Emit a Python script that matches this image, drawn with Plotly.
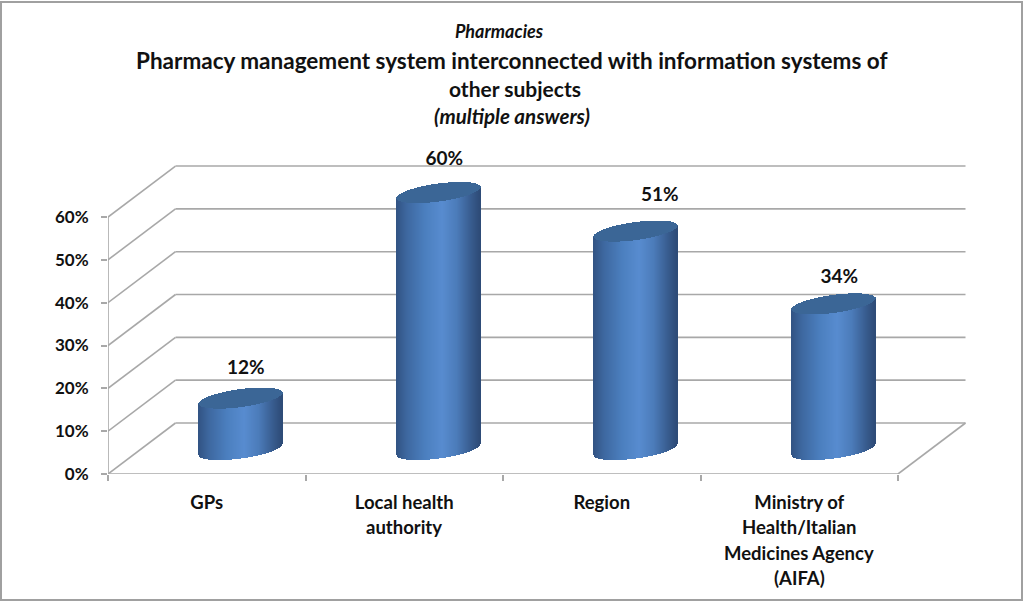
import numpy as np
import plotly.graph_objects as go

# ---- data ----
categories = ["GPs", "Local health<br>authority", "Region",
              "Ministry of<br>Health/Italian<br>Medicines Agency<br>(AIFA)"]
values = [12, 60, 51, 34]
y_ticks = [0, 10, 20, 30, 40, 50, 60]
title_lines = ["<i>Pharmacies</i>",
               "Pharmacy management system interconnected with information systems of",
               "other subjects",
               "<i>(multiple answers)</i>"]

# ---- geometry / style ----
W, H = 1024, 602
PX_X, PX_Y = 197.5, 4.283          # pixels per x unit, per y unit
L, B = 108, 128
R, T = 24, 153
XMAX, YMAX = (W - L - R) / PX_X, (H - B - T) / PX_Y
GREY = "#a8a8a8"
FONT = "Lato"
TXT = "#111111"
wall_dx, wall_dy = 67.5 / PX_X, 51 / PX_Y
bar_dx, bar_dy = 34 / PX_X, 24.5 / PX_Y
rad_px, minor_px, tilt_px = 41.5, 9.0, 5.5
label_shift_px = [(5, 53), (6, 57), (24, 59), (6, 50)]
stops_t = [-1.0, -0.75, -0.3, 0.1, 0.45, 0.8, 1.0]
stops_c = np.array([[50, 84, 132], [62, 104, 160], [76, 128, 192], [88, 140, 208],
                    [76, 124, 186], [56, 92, 142], [46, 76, 120]], float)

side_x, side_base, side_h, side_col = [], [], [], []
cap_x, cap_base, cap_h = [], [], []
for i, v in enumerate(values):
    c = i + 0.5 + bar_dx
    for px in np.arange(-rad_px, rad_px + 0.5, 1.0):
        t = np.clip(px / rad_px, -0.999, 0.999)
        half = minor_px * np.sqrt(1 - t * t) / PX_Y
        skew = tilt_px * t / PX_Y
        x = c + px / PX_X
        side_x.append(x)
        side_base.append(bar_dy + skew - half)
        side_h.append(v)
        rgb = [np.interp(t, stops_t, stops_c[:, k]) for k in range(3)]
        side_col.append("rgb(%d,%d,%d)" % tuple(rgb))
        cap_x.append(x)
        cap_base.append(bar_dy + v + skew - half)
        cap_h.append(2 * half)

fig = go.Figure()
fig.add_bar(x=side_x, y=side_h, base=side_base, width=1.5 / PX_X,
            marker=dict(color=side_col, line_width=0), hoverinfo="skip", showlegend=False)
fig.add_bar(x=cap_x, y=cap_h, base=cap_base, width=1.5 / PX_X,
            marker=dict(color="#3b6696", line_width=0), hoverinfo="skip", showlegend=False)

# data labels
fig.add_scatter(
    x=[i + 0.5 + s[0] / PX_X + bar_dx for i, s in enumerate(label_shift_px)],
    y=[v + s[1] / PX_Y for v, s in zip(values, label_shift_px)],
    mode="text", text=[f"{v}%" for v in values], textposition="middle center",
    textfont=dict(family=FONT, size=19, color=TXT, weight=700),
    cliponaxis=False, hoverinfo="skip", showlegend=False)

# walls, floor, axis lines
shapes = []
def seg(x0, y0, x1, y1):
    shapes.append(dict(type="line", xref="x", yref="y", x0=x0, y0=y0, x1=x1, y1=y1,
                       layer="below", line=dict(color=GREY, width=1.6)))
for v in y_ticks:
    seg(0, v, wall_dx, v + wall_dy)
    seg(wall_dx, v + wall_dy, len(values) + wall_dx, v + wall_dy)
seg(0, 0, 0, y_ticks[-1])
seg(0, 0, len(values), 0)
seg(len(values), 0, len(values) + wall_dx, wall_dy)

# paper coordinates are relative to the plot area
pw, ph = W - L - R, H - B - T
def paper_x(px):
    return (px - L) / pw
def paper_y(py):
    return (H - B - py) / ph

# outer picture frame
shapes.append(dict(type="rect", xref="paper", yref="paper",
                   x0=paper_x(1), x1=paper_x(W - 2), y0=paper_y(H - 2), y1=paper_y(2),
                   layer="below", line=dict(color="#a0a0a0", width=2)))

first_lines = [c.split("<br>")[0] for c in categories]
annotations = []
for i, c in enumerate(categories):
    for j, line in enumerate(c.split("<br>")[1:], start=1):
        annotations.append(dict(x=i + 0.5, y=0, xref="x", yref="y", text=line, showarrow=False,
                                yshift=-28 - 25.3 * j, xanchor="center", yanchor="middle",
                                font=dict(family=FONT, size=18.5, color=TXT, weight=700)))
title_pos = [(499, 31, 18), (512, 60, 22.5), (515, 88, 21), (512, 116, 20.5)]
for text, (px, py, size) in zip(title_lines, title_pos):
    annotations.append(dict(x=paper_x(px), y=paper_y(py), xref="paper", yref="paper", text=text,
                            showarrow=False, xanchor="center", yanchor="middle",
                            font=dict(family=FONT, size=size, color=TXT, weight=700)))

fig.update_layout(
    width=W, height=H, autosize=False,
    margin=dict(l=L, r=R, t=T, b=B, pad=0),
    paper_bgcolor="white", plot_bgcolor="white",
    barmode="overlay", bargap=0, showlegend=False,
    shapes=shapes, annotations=annotations,
    xaxis=dict(range=[0, XMAX], showgrid=False, zeroline=False, showline=False,
               tickmode="array", tickvals=[i + 0.5 for i in range(len(values))],
               ticktext=first_lines, ticks="", ticklabelstandoff=15,
               tickfont=dict(family=FONT, size=18.5, color=TXT, weight=700),
               minor=dict(tickmode="array", tickvals=list(range(len(values) + 1)),
                          ticks="outside", ticklen=6, tickwidth=1.5, tickcolor=GREY, showgrid=False)),
    yaxis=dict(range=[0, YMAX], showgrid=False, zeroline=False, showline=False,
               tickmode="array", tickvals=y_ticks, ticktext=[f"{v}%" for v in y_ticks],
               ticks="outside", ticklen=6, tickwidth=1.5, tickcolor=GREY, ticklabelstandoff=9,
               tickfont=dict(family=FONT, size=17, color=TXT, weight=700)),
)
fig.write_html("out.html", config=dict(displayModeBar=False),
               post_script="document.body.style.margin='0';")
